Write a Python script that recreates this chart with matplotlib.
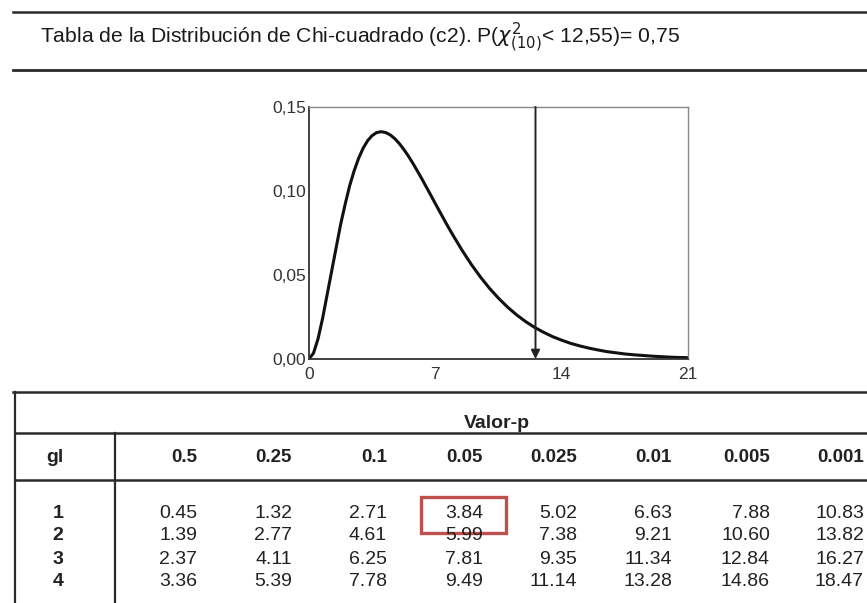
import matplotlib
matplotlib.use('Agg')
import matplotlib.pyplot as plt
from matplotlib.lines import Line2D
from matplotlib.patches import Rectangle

plt.rcParams['font.family'] = ['Liberation Sans', 'DejaVu Sans']

# Curve: finer steps round the peak, coarser in the tail
curve_x = [0, 0.25, 0.5, 0.75, 1, 1.25, 1.5, 1.75, 2, 2.25, 2.5, 2.75, 3, 3.25,
           3.5, 3.75, 4, 4.25, 4.5, 4.75, 5, 5.25, 5.5, 5.75, 6, 6.25, 6.5,
           6.75, 7, 7.25, 7.5, 7.75, 8, 8.5, 9, 9.5, 10, 10.5, 11, 11.5, 12,
           12.5, 13, 13.5, 14, 14.5, 15, 15.5, 16, 16.5, 17, 17.5, 18, 18.5,
           19, 19.5, 20, 20.5, 21]
curve_y = [0.000, 0.0035, 0.012, 0.024, 0.038, 0.052, 0.066, 0.080, 0.092,
           0.103, 0.112, 0.1195, 0.1255, 0.130, 0.133, 0.1348, 0.1353, 0.1348,
           0.1334, 0.1312, 0.1283, 0.1248, 0.1209, 0.1166, 0.1120, 0.1073,
           0.1024, 0.0975, 0.0925, 0.0876, 0.0827, 0.0779, 0.0733, 0.0644,
           0.0562, 0.0488, 0.0421, 0.0362, 0.0309, 0.0263, 0.0223, 0.0188,
           0.0159, 0.0133, 0.0112, 0.0093, 0.0078, 0.0065, 0.0054, 0.0044,
           0.0037, 0.0030, 0.0025, 0.0021, 0.0017, 0.0014, 0.0011, 0.0009,
           0.0008]
arrow_x = 12.55

x_ticks = [0, 7, 14, 21]
y_ticks = [0.00, 0.05, 0.10, 0.15]
y_tick_labels = ['0,00', '0,05', '0,10', '0,15']

p_values = ['0.5', '0.25', '0.1', '0.05', '0.025', '0.01', '0.005', '0.001']
gl_rows = ['1', '2', '3', '4']
table_values = [
    ['0.45', '1.32', '2.71', '3.84', '5.02', '6.63', '7.88', '10.83'],
    ['1.39', '2.77', '4.61', '5.99', '7.38', '9.21', '10.60', '13.82'],
    ['2.37', '4.11', '6.25', '7.81', '9.35', '11.34', '12.84', '16.27'],
    ['3.36', '5.39', '7.78', '9.49', '11.14', '13.28', '14.86', '18.47'],
]

W, H = 867, 603
fig = plt.figure(figsize=(W / 100, H / 100), dpi=100)


def fx(px):
    return px / W


def fy(py):
    return 1 - py / H


def hline(y, x0, x1, lw=1.6, color='#2a2a2a'):
    fig.add_artist(Line2D([fx(x0), fx(x1)], [fy(y), fy(y)], lw=lw, color=color))


def vline(x, y0, y1, lw=1.6, color='#2a2a2a'):
    fig.add_artist(Line2D([fx(x), fx(x)], [fy(y0), fy(y1)], lw=lw, color=color))


# Title block
hline(12, 13, 867, lw=1.8)
hline(70, 13, 867, lw=2.0)
fig.text(fx(40), fy(38), r'Tabla de la Distribución de Chi-cuadrado (c2). P($\chi^2_{(10)}$< 12,55)= 0,75',
         fontsize=15.2, color='#1a1a1a', va='center', ha='left')

# Density plot
ax = fig.add_axes([fx(309), fy(359), fx(688) - fx(309), fy(107) - fy(359)])
ax.plot(curve_x, curve_y, color='#111111', lw=2.2, solid_capstyle='round', solid_joinstyle='round')
ax.annotate('', xy=(arrow_x, 0), xytext=(arrow_x, 0.15),
            arrowprops=dict(arrowstyle='-|>', color='#222222', lw=1.4, mutation_scale=13,
                            shrinkA=0, shrinkB=0))
ax.set_xlim(0, 21)
ax.set_ylim(0, 0.15)
ax.set_xticks(x_ticks)
ax.set_xticklabels([str(t) for t in x_ticks])
ax.set_yticks(y_ticks)
ax.set_yticklabels(y_tick_labels)
ax.tick_params(length=0, labelsize=12.5, colors='#333333')
ax.tick_params(axis='x', pad=6)
ax.tick_params(axis='y', pad=2)
for side in ['left', 'bottom']:
    ax.spines[side].set_color('#333333')
    ax.spines[side].set_linewidth(1.3)
for side in ['top', 'right']:
    ax.spines[side].set_color('#888888')
    ax.spines[side].set_linewidth(1.0)

# Table
hline(392, 13, 867, lw=1.8)
hline(433, 15, 867, lw=1.8)
hline(480, 15, 867, lw=1.8)
vline(15, 392, 603, lw=1.6)
vline(115, 433, 603, lw=1.6)

fig.text(fx(497), fy(424), 'Valor-p', fontsize=14, fontweight='bold', color='#222222',
         ha='center', va='center')
fig.text(fx(55), fy(457), 'gl', fontsize=14, fontweight='bold', color='#222222',
         ha='center', va='center')

col_right = [197, 292, 387, 483, 577, 672, 770, 864]
row_y = [513, 536, 559, 582]
for cx, p in zip(col_right, p_values):
    fig.text(fx(cx), fy(457), p, fontsize=13.5, fontweight='bold', color='#222222',
             ha='right', va='center')
for ry, g, vals in zip(row_y, gl_rows, table_values):
    fig.text(fx(58), fy(ry), g, fontsize=14, fontweight='bold', color='#222222',
             ha='center', va='center')
    for cx, v in zip(col_right, vals):
        fig.text(fx(cx), fy(ry), v, fontsize=14, color='#222222', ha='right', va='center')

# Red box round the highlighted value
fig.add_artist(Rectangle((fx(421), fy(533)), fx(506) - fx(421), fy(497) - fy(533),
                         fill=False, edgecolor='#c0504d', lw=2.4))

fig.savefig('out.png', dpi=100)
